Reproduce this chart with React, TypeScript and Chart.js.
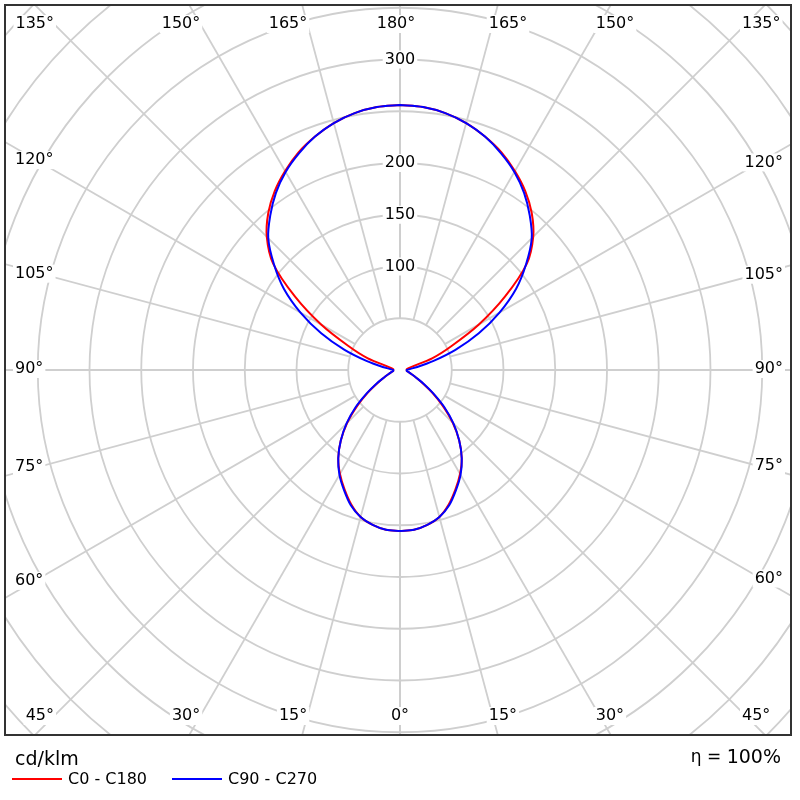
import { useEffect, useRef } from 'react'
import { Chart, registerables } from 'chart.js'

Chart.register(...registerables)

// gamma angles (0 = nadir, 180 = zenith), step 5 deg
const GAMMA = [
  0, 5, 10, 15, 20, 25, 30, 35, 40, 45, 50, 55, 60, 65, 70, 75, 80, 85, 90,
  95, 100, 105, 110, 115, 120, 125, 130, 135, 140, 145, 150, 155, 160, 165, 170, 175, 180,
]

// intensities in cd/klm
const C0_C180 = [
  155.5, 155, 152, 147, 138, 127, 116, 104, 89, 72, 54, 38, 25, 17, 12, 9, 7, 6.5, 6.5,
  6.5, 7.5, 11, 33, 55, 88, 124, 160, 182, 198, 211, 222, 232, 240, 247, 252, 255, 256,
]
const C90_C270 = [
  155.5, 155, 152, 147, 139, 128, 117, 104, 89, 73, 56, 39, 26, 17, 12, 9, 7, 6.5, 6.5,
  9, 17, 33, 57, 84, 111, 137, 159, 180, 195, 209, 221, 231, 240, 247, 252, 255, 256,
]

const RINGS = [50, 100, 150, 200, 250, 300, 350, 400, 450, 500, 550]
const RING_LABELS = [100, 150, 200, 300]
const SPOKES = [0, 15, 30, 45, 60, 75, 90, 105, 120, 135, 150, 165, 180]

const UNIT = 'cd/klm'
const EFFICIENCY = '100%'
const SERIES = ['C0 - C180', 'C90 - C270']
const COLORS = ['#ff0000', '#0000ff']

const PX_PER_UNIT = 1.035
const FONT = '"DejaVu Sans", Verdana, sans-serif'

function toPoints(values: number[]) {
  const rad = (g: number) => (g * Math.PI) / 180
  const right = GAMMA.map((g, i) => ({ x: values[i] * Math.sin(rad(g)), y: -values[i] * Math.cos(rad(g)) }))
  const left = GAMMA.map((g, i) => ({ x: -values[i] * Math.sin(rad(g)), y: -values[i] * Math.cos(rad(g)) })).reverse()
  return [...right, ...left]
}

function labelBox(ctx: CanvasRenderingContext2D, text: string, x: number, y: number, align: CanvasTextAlign) {
  const w = ctx.measureText(text).width
  const left = align === 'left' ? x : align === 'right' ? x - w : x - w / 2
  ctx.fillStyle = '#ffffff'
  ctx.fillRect(left - 2, y - 9, w + 4, 18)
  ctx.fillStyle = '#000000'
  ctx.textAlign = align
  ctx.textBaseline = 'middle'
  ctx.fillText(text, x, y)
}

const polarGrid = {
  id: 'polarGrid',
  beforeDatasetsDraw(chart: Chart) {
    const { ctx, chartArea } = chart
    const xs = chart.scales.x
    const ys = chart.scales.y
    const cx = xs.getPixelForValue(0)
    const cy = ys.getPixelForValue(0)
    const k = xs.getPixelForValue(1) - cx

    ctx.save()
    ctx.beginPath()
    ctx.rect(chartArea.left, chartArea.top, chartArea.width, chartArea.height)
    ctx.clip()
    ctx.strokeStyle = '#cfcfcf'
    ctx.lineWidth = 1.8

    RINGS.forEach((r) => {
      ctx.beginPath()
      ctx.arc(cx, cy, r * k, 0, Math.PI * 2)
      ctx.stroke()
    })

    SPOKES.forEach((g) => {
      const a = (g * Math.PI) / 180
      ;[1, -1].forEach((side) => {
        const dx = side * Math.sin(a)
        const dy = Math.cos(a)
        ctx.beginPath()
        ctx.moveTo(cx + dx * 50 * k, cy + dy * 50 * k)
        ctx.lineTo(cx + dx * 700 * k, cy + dy * 700 * k)
        ctx.stroke()
      })
    })

    ctx.font = `16px ${FONT}`
    RING_LABELS.forEach((r) => labelBox(ctx, String(r), cx, cy - r * k, 'center'))

    // angle labels along the frame
    const L = chartArea.left + 28
    const R = chartArea.right - 28
    const T = chartArea.top + 19
    const B = chartArea.bottom - 19
    SPOKES.forEach((g) => {
      const a = (g * Math.PI) / 180
      ;[1, -1].forEach((side) => {
        if ((g === 0 || g === 180) && side === -1) return
        const dx = side * Math.sin(a)
        const dy = Math.cos(a)
        const text = `${g}°`
        const tx = dx > 0 ? (R - cx) / dx : dx < 0 ? (L - cx) / dx : Infinity
        const ty = dy > 0 ? (B - cy) / dy : dy < 0 ? (T - cy) / dy : Infinity
        if (ty <= tx) {
          const y = dy > 0 ? B : T
          const x = cx + dx * ty
          const align: CanvasTextAlign = Math.abs(dx) < 1e-6 ? 'center' : dx < 0 ? 'right' : 'left'
          labelBox(ctx, text, dx > 0 ? x - 4 : x, y, align)
        } else {
          const y = cy + dy * tx + (dy < 0 ? 2 : -1)
          if (dx < 0) labelBox(ctx, text, chartArea.left + 10, y, 'left')
          else labelBox(ctx, text, chartArea.right - 8, y, 'right')
        }
      })
    })
    ctx.restore()
  },
  afterDraw(chart: Chart) {
    const { ctx, chartArea } = chart
    ctx.save()
    ctx.strokeStyle = '#333333'
    ctx.lineWidth = 2
    ctx.strokeRect(chartArea.left, chartArea.top, chartArea.width, chartArea.height)

    ctx.fillStyle = '#000000'
    ctx.textBaseline = 'middle'
    ctx.textAlign = 'left'
    ctx.font = `19px ${FONT}`
    ctx.fillText(UNIT, 15, 760)

    ctx.textAlign = 'right'
    const right = chartArea.right - 10
    ctx.fillText(EFFICIENCY, right, 758)
    const w = ctx.measureText(EFFICIENCY).width
    ctx.font = `17px ${FONT}`
    ctx.fillText('η = ', right - w, 758)

    const legendX = [12, 172]
    SERIES.forEach((name, i) => {
      ctx.strokeStyle = COLORS[i]
      ctx.lineWidth = 2
      ctx.beginPath()
      ctx.moveTo(legendX[i], 779)
      ctx.lineTo(legendX[i] + 50, 779)
      ctx.stroke()
      ctx.fillStyle = '#000000'
      ctx.textAlign = 'left'
      ctx.font = `16px ${FONT}`
      ctx.fillText(name, legendX[i] + 56, 780)
    })
    ctx.restore()
  },
}

export default function App() {
  const chartRef = useRef<HTMLCanvasElement>(null)
  const chartInstance = useRef<Chart | null>(null)

  useEffect(() => {
    if (!chartRef.current) return
    if (chartInstance.current) chartInstance.current.destroy()

    const ctx = chartRef.current.getContext('2d')
    if (!ctx) return

    const pad = { left: 5, top: 5, right: 9, bottom: 65 }
    const cx = 400
    const cy = 370

    chartInstance.current = new Chart(ctx, {
      type: 'scatter',
      data: {
        datasets: [
          {
            label: SERIES[0],
            data: toPoints(C0_C180),
            showLine: true,
            borderColor: COLORS[0],
            borderWidth: 2,
            pointRadius: 0,
            tension: 0.3,
            order: 1,
          },
          {
            label: SERIES[1],
            data: toPoints(C90_C270),
            showLine: true,
            borderColor: COLORS[1],
            borderWidth: 2,
            pointRadius: 0,
            tension: 0.3,
            order: 0,
          },
        ],
      },
      options: {
        responsive: false,
        animation: false,
        devicePixelRatio: 1,
        layout: { padding: pad },
        scales: {
          x: {
            type: 'linear',
            display: false,
            min: (pad.left - cx) / PX_PER_UNIT,
            max: (800 - pad.right - cx) / PX_PER_UNIT,
          },
          y: {
            type: 'linear',
            display: false,
            min: -(800 - pad.bottom - cy) / PX_PER_UNIT,
            max: (cy - pad.top) / PX_PER_UNIT,
          },
        },
        plugins: {
          legend: { display: false },
          tooltip: { enabled: false },
        },
      },
      plugins: [polarGrid],
    })

    return () => {
      if (chartInstance.current) {
        chartInstance.current.destroy()
        chartInstance.current = null
      }
    }
  }, [])

  return (
    <div style={{ position: 'fixed', left: 0, top: 0, width: 800, height: 800, background: '#fff' }}>
      <canvas ref={chartRef} width={800} height={800} style={{ display: 'block' }}></canvas>
    </div>
  )
}
